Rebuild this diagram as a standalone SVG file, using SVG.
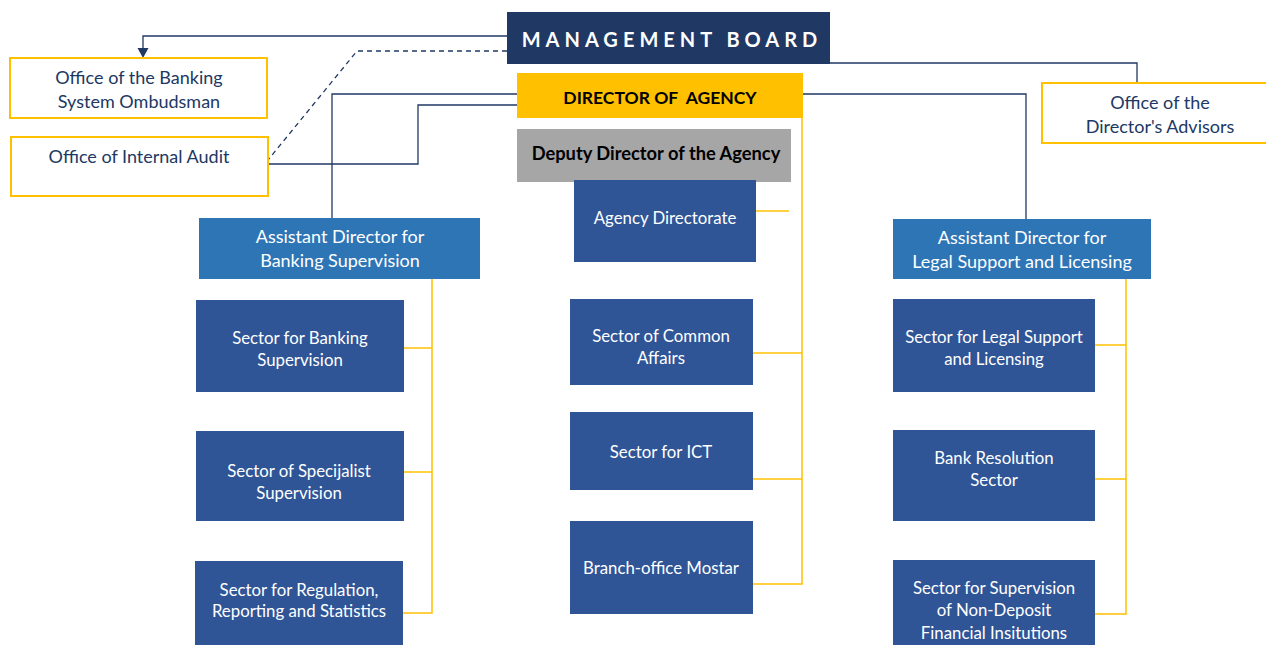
<svg xmlns="http://www.w3.org/2000/svg" width="1266" height="645" viewBox="0 0 1266 645">
<defs>
<style>
text{font-family:Lato,"Open Sans","Liberation Sans",sans-serif;font-size:18px;text-anchor:middle}
.s{font-size:16.8px}
.sec{fill:#2F5597}
.asst{fill:#2E75B6}
.w{fill:#ffffff}
.off{fill:#ffffff;stroke:#FFC000;stroke-width:2}
.ot{fill:#203864}
.nv{fill:none;stroke:#203864;stroke-width:1.3}
.yl{fill:none;stroke:#FFC000;stroke-width:1.5}
</style>
</defs>
<rect width="1266" height="645" fill="#ffffff"/>
<g id="connectors">
<polyline class="nv" points="507,36 143,36 143,50"/>
<path d="M137.5,48 L148.5,48 L143,58 Z" fill="#203864"/>
<polyline class="nv" points="507,51 357,51 268,160" stroke-dasharray="5,4"/>
<polyline class="nv" points="517,94 332,94 332,218"/>
<polyline class="nv" points="268,164 418,164 418,105 517,105"/>
<polyline class="nv" points="830,63 1137,63 1137,83"/>
<polyline class="nv" points="803,94 1026,94 1026,219"/>
<polyline class="yl" points="802,118 802,584 753,584"/>
<line class="yl" x1="756" y1="211" x2="789" y2="211"/>
<line class="yl" x1="753" y1="353" x2="802" y2="353"/>
<line class="yl" x1="753" y1="479" x2="802" y2="479"/>
<polyline class="yl" points="432,279 432,613 403,613"/>
<line class="yl" x1="404" y1="348" x2="432" y2="348"/>
<line class="yl" x1="404" y1="472" x2="432" y2="472"/>
<polyline class="yl" points="1126,279 1126,614 1095,614"/>
<line class="yl" x1="1095" y1="345" x2="1126" y2="345"/>
<line class="yl" x1="1095" y1="479" x2="1126" y2="479"/>
</g>
<g id="management-board">
<rect x="507" y="12" width="323" height="52" fill="#203864"/>
<text x="672" y="47" class="w" style="font-size:20px;font-weight:bold;letter-spacing:5px">MANAGEMENT BOARD</text>
</g>
<g id="director">
<rect x="517" y="73" width="286" height="45" fill="#FFC000"/>
<text x="660" y="104" xml:space="preserve" style="font-weight:bold;fill:#000;font-size:17.5px">DIRECTOR OF  AGENCY</text>
</g>
<g id="deputy">
<rect x="517" y="129" width="274" height="53" fill="#A6A6A6"/>
<text x="656" y="160" style="font-weight:bold;fill:#000;font-size:18.3px">Deputy Director of the Agency</text>
</g>
<g id="ombudsman">
<rect x="10" y="58" width="257" height="60" class="off"/>
<text x="139" y="84" class="ot">Office of the Banking</text>
<text x="139" y="108" class="ot">System Ombudsman</text>
</g>
<g id="internal-audit">
<rect x="11" y="137" width="257" height="59" class="off"/>
<text x="139" y="163" class="ot">Office of Internal Audit</text>
</g>
<g id="advisors">
<rect x="1042" y="83" width="230" height="60" class="off"/>
<text x="1160" y="109" class="ot">Office of the</text>
<text x="1160" y="133" class="ot">Director's Advisors</text>
</g>
<g id="asst-banking">
<rect x="199" y="218" width="281" height="61" class="asst"/>
<text x="340" y="243" class="w">Assistant Director for</text>
<text x="340" y="267" class="w">Banking Supervision</text>
</g>
<g id="asst-legal">
<rect x="893" y="219" width="258" height="60" class="asst"/>
<text x="1022" y="244" class="w">Assistant Director for</text>
<text x="1022" y="268" class="w">Legal Support and Licensing</text>
</g>
<g id="agency-directorate">
<rect x="574" y="180" width="182" height="82" class="sec"/>
<text x="665" y="224" class="w s">Agency Directorate</text>
</g>
<g id="common-affairs">
<rect x="570" y="299" width="183" height="86" class="sec"/>
<text x="661" y="342" class="w s">Sector of Common</text>
<text x="661" y="364" class="w s">Affairs</text>
</g>
<g id="ict">
<rect x="570" y="412" width="183" height="78" class="sec"/>
<text x="661" y="458" class="w s">Sector for ICT</text>
</g>
<g id="mostar">
<rect x="570" y="521" width="183" height="93" class="sec"/>
<text x="661" y="574" class="w s">Branch-office Mostar</text>
</g>
<g id="banking-supervision">
<rect x="196" y="300" width="208" height="92" class="sec"/>
<text x="300" y="344" class="w s">Sector for Banking</text>
<text x="300" y="366" class="w s">Supervision</text>
</g>
<g id="specijalist">
<rect x="196" y="431" width="208" height="90" class="sec"/>
<text x="299" y="477" class="w s">Sector of Specijalist</text>
<text x="299" y="499" class="w s">Supervision</text>
</g>
<g id="regulation">
<rect x="195" y="561" width="208" height="84" class="sec"/>
<text x="299" y="596" class="w s">Sector for Regulation,</text>
<text x="299" y="617" class="w s">Reporting and Statistics</text>
</g>
<g id="legal-support">
<rect x="893" y="299" width="202" height="93" class="sec"/>
<text x="994" y="343" class="w s">Sector for Legal Support</text>
<text x="994" y="365" class="w s">and Licensing</text>
</g>
<g id="bank-resolution">
<rect x="893" y="430" width="202" height="91" class="sec"/>
<text x="994" y="464" class="w s">Bank Resolution</text>
<text x="994" y="486" class="w s">Sector</text>
</g>
<g id="non-deposit">
<rect x="893" y="560" width="202" height="85" class="sec"/>
<text x="994" y="594" class="w s">Sector for Supervision</text>
<text x="994" y="616" class="w s">of Non-Deposit</text>
<text x="994" y="639" class="w s">Financial Insitutions</text>
</g>
</svg>
